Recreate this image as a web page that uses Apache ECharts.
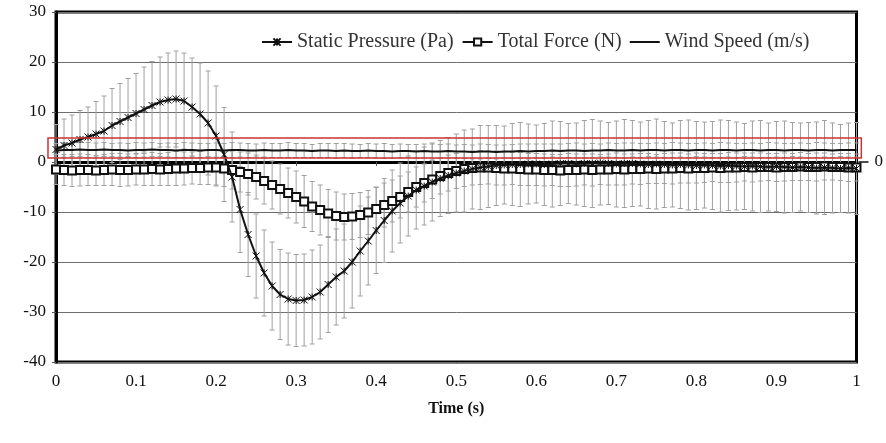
<!DOCTYPE html>
<html>
<head>
<meta charset="utf-8">
<style>
  html, body { margin: 0; padding: 0; background: #fff; }
  #chart { width: 886px; height: 443px; }
</style>
</head>
<body>
<div id="chart"></div>
<script src="https://cdn.jsdelivr.net/npm/echarts@6/dist/echarts.min.js"></script>
<script>
var staticPressure = [
  2.5, 3.3, 3.8, 4.5, 5.0, 5.6, 6.2, 7.3, 8.1, 8.9,
  9.7, 10.5, 11.3, 12.0, 12.4, 12.6, 12.2, 11.0, 9.6, 7.8,
  5.2, 1.5, -3.0, -9.5, -14.5, -18.8, -22.2, -24.8, -26.5, -27.4,
  -27.7, -27.6, -27.0, -26.0, -24.5, -23.0, -21.8, -20.0, -17.8, -15.8,
  -13.7, -11.7, -9.8, -8.2, -6.8, -5.6, -4.8, -4.0, -3.3, -2.7,
  -2.2, -1.8, -1.4, -1.1, -0.9, -0.7, -0.6, -0.5, -0.5, -0.4,
  -0.4, -0.5, -0.4, -0.3, -0.3, -0.4, -0.3, -0.3, -0.2, -0.3,
  -0.4, -0.3, -0.3, -0.4, -0.5, -0.4, -0.5, -0.6, -0.5, -0.6,
  -0.7, -0.6, -0.7, -0.8, -0.7, -0.8, -0.9, -0.8, -0.9, -1.0,
  -0.9, -1.0, -1.1, -1.0, -1.1, -1.2, -1.1, -1.2, -1.3, -1.2,
  -1.3
];
var staticPressureErr = [
  5.0, 5.3, 5.6, 5.8, 6.0, 6.5, 7.0, 7.4, 7.6, 7.8,
  8.0, 8.5, 8.8, 9.0, 9.4, 9.6, 9.6, 9.8, 10.2, 10.4,
  10.0, 9.4, 9.0, 8.6, 8.4, 8.4, 8.6, 8.8, 9.0, 9.2,
  9.2, 9.2, 9.4, 9.4, 9.6, 9.6, 9.4, 9.2, 9.0, 8.8,
  8.6, 8.4, 8.2, 8.0, 8.0, 7.8, 7.8, 7.8, 7.6, 7.6,
  7.8, 8.2, 8.0, 8.4, 8.2, 8.0, 7.8, 8.2, 8.4, 8.0,
  7.8, 8.2, 8.6, 8.4, 8.0, 8.2, 8.6, 8.8, 8.4, 8.2,
  8.6, 8.8, 8.6, 8.4, 8.8, 9.0, 8.6, 8.4, 8.8, 9.0,
  8.8, 8.6, 8.8, 9.2, 9.0, 8.8, 8.6, 9.0, 9.2, 8.8,
  9.0, 9.2, 9.0, 8.8, 9.0, 9.2, 9.4, 9.0, 8.8, 9.0,
  9.2
];
var totalForce = [
  -1.5, -1.6, -1.7, -1.6, -1.6, -1.7, -1.6, -1.5, -1.6, -1.6,
  -1.5, -1.5, -1.4, -1.5, -1.4, -1.3, -1.3, -1.2, -1.2, -1.1,
  -1.1, -1.3, -1.6, -2.0, -2.4, -3.0, -3.8, -4.6, -5.4, -6.2,
  -7.0, -7.9, -8.9, -9.6, -10.3, -10.8, -11.0, -10.9, -10.6, -10.1,
  -9.4, -8.6, -7.8, -7.0, -6.0, -5.0, -4.2, -3.5, -2.8, -2.2,
  -1.8, -1.4, -1.2, -1.1, -1.1, -1.2, -1.3, -1.3, -1.4, -1.5,
  -1.5, -1.6, -1.6, -1.7, -1.6, -1.6, -1.5, -1.6, -1.5, -1.5,
  -1.4, -1.5, -1.4, -1.4, -1.3, -1.4, -1.3, -1.3, -1.2, -1.3,
  -1.2, -1.2, -1.1, -1.2, -1.1, -1.1, -1.0, -1.1, -1.0, -1.0,
  -1.1, -1.0, -1.0, -0.9, -1.0, -1.0, -0.9, -1.0, -1.0, -1.1,
  -1.1
];
var totalForceErr = [
  3.0, 3.1, 3.2, 3.2, 3.1, 3.0, 3.1, 3.2, 3.3, 3.2,
  3.1, 3.2, 3.3, 3.2, 3.3, 3.4, 3.3, 3.2, 3.3, 3.4,
  3.5, 3.6, 3.8, 4.0, 4.2, 4.4, 4.6, 4.8, 5.0, 5.0,
  5.2, 5.2, 5.0, 5.0, 4.8, 4.8, 4.6, 4.6, 4.5, 4.4,
  4.4, 4.4, 4.2, 4.2, 4.0, 4.0, 3.8, 3.8, 3.6, 3.6,
  3.5, 3.5, 3.4, 3.4, 3.3, 3.4, 3.3, 3.2, 3.3, 3.2,
  3.2, 3.2, 3.1, 3.2, 3.3, 3.2, 3.1, 3.2, 3.0, 3.1,
  3.2, 3.1, 3.0, 3.1, 3.0, 2.9, 3.0, 3.1, 3.0, 2.9,
  3.0, 2.9, 2.8, 2.9, 3.0, 2.9, 2.8, 2.9, 2.8, 2.7,
  2.8, 2.8, 2.7, 2.8, 2.7, 2.8, 2.7, 2.6, 2.7, 2.8,
  2.7
];
var windSpeed = [
  2.3, 2.4, 2.4, 2.5, 2.4, 2.4, 2.5, 2.4, 2.4, 2.3,
  2.4, 2.4, 2.5, 2.4, 2.4, 2.3, 2.4, 2.4, 2.3, 2.4,
  2.4, 2.3, 2.4, 2.4, 2.3, 2.3, 2.4, 2.3, 2.3, 2.4,
  2.3, 2.3, 2.2, 2.3, 2.3, 2.2, 2.3, 2.2, 2.2, 2.3,
  2.2, 2.2, 2.1, 2.2, 2.2, 2.1, 2.2, 2.1, 2.1, 2.2,
  2.1, 2.1, 2.0, 2.1, 2.1, 2.0, 2.1, 2.1, 2.2, 2.1,
  2.2, 2.2, 2.3, 2.2, 2.3, 2.3, 2.2, 2.3, 2.3, 2.4,
  2.3, 2.3, 2.4, 2.3, 2.4, 2.4, 2.3, 2.4, 2.4, 2.3,
  2.4, 2.4, 2.3, 2.4, 2.4, 2.3, 2.4, 2.4, 2.3, 2.4,
  2.4, 2.3, 2.4, 2.4, 2.3, 2.4, 2.4, 2.3, 2.4, 2.4,
  2.4
];
var windSpeedErr = [
  1.4, 1.4, 1.3, 1.4, 1.5, 1.4, 1.4, 1.3, 1.4, 1.4,
  1.5, 1.4, 1.4, 1.3, 1.4, 1.4, 1.5, 1.4, 1.4, 1.3,
  1.4, 1.4, 1.5, 1.4, 1.4, 1.3, 1.4, 1.4, 1.4, 1.5,
  1.4, 1.4, 1.3, 1.4, 1.4, 1.5, 1.4, 1.4, 1.3, 1.4,
  1.4, 1.5, 1.4, 1.4, 1.3, 1.4, 1.4, 1.5, 1.4, 1.4,
  1.3, 1.4, 1.4, 1.5, 1.4, 1.4, 1.3, 1.4, 1.4, 1.5,
  1.4, 1.4, 1.3, 1.4, 1.4, 1.5, 1.4, 1.4, 1.3, 1.4,
  1.4, 1.5, 1.4, 1.4, 1.3, 1.4, 1.4, 1.5, 1.4, 1.4,
  1.3, 1.4, 1.4, 1.5, 1.4, 1.4, 1.3, 1.4, 1.4, 1.5,
  1.4, 1.4, 1.3, 1.4, 1.4, 1.5, 1.4, 1.4, 1.3, 1.4,
  1.4
];
var seriesNames = ['Static Pressure (Pa)', 'Total Force (N)', 'Wind Speed (m/s)'];
var xTicks = [0, 0.1, 0.2, 0.3, 0.4, 0.5, 0.6, 0.7, 0.8, 0.9, 1];
var yTicks = [-40, -30, -20, -10, 0, 10, 20, 30];
// red highlight box drawn on the figure (data coords)
var highlightBox = [[-0.01, 4.8], [1.006, 0.8]];

var timeStep = 0.01;
var time = staticPressure.map(function (v, i) { return +(i * timeStep).toFixed(2); });

function pairs(vals) {
  return vals.map(function (v, i) { return [time[i], v]; });
}
function bars(vals, errs) {
  return vals.map(function (v, i) { return [time[i], v - errs[i], v + errs[i]]; });
}

var FONT = '"Liberation Serif", "DejaVu Serif", serif';
var ERR_STYLE = { stroke: '#a0a0a0', lineWidth: 1 };

function errorBarItem(params, api) {
  var x = api.value(0);
  var lo = api.coord([x, api.value(1)]);
  var hi = api.coord([x, api.value(2)]);
  var w = 2.5;
  return {
    type: 'group',
    children: [
      { type: 'line', shape: { x1: hi[0] - w, y1: hi[1], x2: hi[0] + w, y2: hi[1] }, style: ERR_STYLE },
      { type: 'line', shape: { x1: hi[0], y1: hi[1], x2: lo[0], y2: lo[1] }, style: ERR_STYLE },
      { type: 'line', shape: { x1: lo[0] - w, y1: lo[1], x2: lo[0] + w, y2: lo[1] }, style: ERR_STYLE }
    ]
  };
}

var chart = echarts.init(document.getElementById('chart'));

var option = {
  animation: false,
  backgroundColor: '#fff',
  grid: { left: 56, right: 25, top: 12, bottom: 81, show: true, borderColor: '#000', borderWidth: 3 },
  legend: {
    data: [
      { name: seriesNames[0] },
      { name: seriesNames[1] },
      { name: seriesNames[2], icon: 'path://M0,0L30,0L30,2L0,2Z', itemStyle: { color: '#111' } }
    ],
    left: 256,
    top: 27,
    itemGap: 8,
    itemWidth: 30,
    itemHeight: 9,
    textStyle: { fontFamily: FONT, fontSize: 20, color: '#333' }
  },
  xAxis: {
    type: 'value',
    min: xTicks[0],
    max: xTicks[xTicks.length - 1],
    interval: 0.1,
    name: 'Time (s)',
    nameLocation: 'middle',
    nameGap: 39,
    nameTextStyle: { fontFamily: FONT, fontSize: 16, fontWeight: 'bold', color: '#111' },
    axisLine: { lineStyle: { color: '#000', width: 3 } },
    axisTick: { show: true, length: 4, lineStyle: { color: '#555' } },
    axisLabel: { fontFamily: FONT, fontSize: 17, color: '#111', margin: 11 },
    splitLine: { show: false }
  },
  yAxis: [{
    type: 'value',
    min: yTicks[0],
    max: yTicks[yTicks.length - 1],
    interval: 10,
    axisLine: { show: true, lineStyle: { color: '#000', width: 3 } },
    axisTick: { show: true, length: 4, lineStyle: { color: '#555' } },
    axisLabel: { fontFamily: FONT, fontSize: 17, color: '#111', margin: 10 },
    splitLine: { show: true, lineStyle: { color: '#6e6e6e', width: 1 } }
  }, {
    type: 'value',
    position: 'right',
    min: yTicks[0],
    max: yTicks[yTicks.length - 1],
    interval: 10,
    axisLine: { show: false },
    axisTick: { show: false },
    splitLine: { show: false },
    axisLabel: {
      fontFamily: FONT, fontSize: 17, color: '#111', margin: 18,
      formatter: function (v) { return v === 0 ? '0' : ''; }
    }
  }],
  series: [
    { type: 'custom', name: 'spErr', renderItem: errorBarItem, data: bars(staticPressure, staticPressureErr), encode: { x: 0, y: [1, 2] }, z: 1, silent: true },
    { type: 'custom', name: 'tfErr', renderItem: errorBarItem, data: bars(totalForce, totalForceErr), encode: { x: 0, y: [1, 2] }, z: 1, silent: true },
    { type: 'custom', name: 'wsErr', renderItem: errorBarItem, data: bars(windSpeed, windSpeedErr), encode: { x: 0, y: [1, 2] }, z: 1, silent: true },
    {
      type: 'line',
      name: seriesNames[2],
      data: pairs(windSpeed),
      symbol: 'none',
      lineStyle: { color: '#111', width: 2 },
      itemStyle: { color: '#111' },
      z: 3
    },
    {
      type: 'line',
      name: seriesNames[1],
      data: pairs(totalForce),
      symbol: 'emptyRect',
      symbolSize: 8,
      showAllSymbol: true,
      lineStyle: { color: '#111', width: 1.5 },
      itemStyle: { color: '#111', borderColor: '#111', borderWidth: 1.2 },
      z: 4
    },
    {
      type: 'line',
      name: seriesNames[0],
      data: pairs(staticPressure),
      symbol: 'path://M0,0L10,10M10,0L0,10M5,0L5,10',
      symbolSize: 7,
      showAllSymbol: true,
      lineStyle: { color: '#111', width: 2 },
      itemStyle: { color: '#111', borderColor: '#111', borderWidth: 1 },
      z: 5
    }
  ]
};

chart.setOption(option);

// annotation box and the stray right-axis tick at 0
var p0 = chart.convertToPixel({ gridIndex: 0 }, highlightBox[0]);
var p1 = chart.convertToPixel({ gridIndex: 0 }, highlightBox[1]);
var zeroR = chart.convertToPixel({ gridIndex: 0 }, [xTicks[xTicks.length - 1], 0]);
chart.setOption({
  graphic: [
    {
      type: 'rect',
      z: 100,
      shape: { x: p0[0], y: p0[1], width: p1[0] - p0[0], height: p1[1] - p0[1] },
      style: { fill: null, stroke: '#cc3333', lineWidth: 1.5 }
    },
    {
      type: 'line',
      z: 100,
      shape: { x1: zeroR[0] + 2, y1: zeroR[1], x2: zeroR[0] + 12, y2: zeroR[1] },
      style: { stroke: '#111', lineWidth: 1.5 }
    }
  ]
});
</script>
</body>
</html>
